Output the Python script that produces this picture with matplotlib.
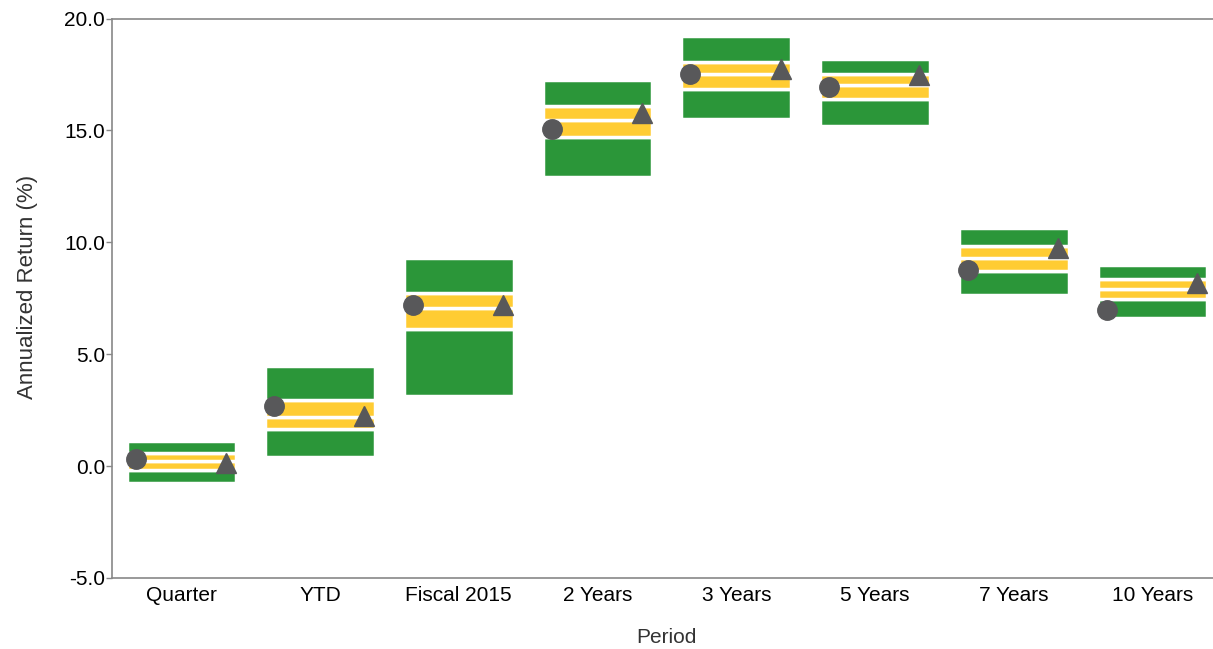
import numpy as np
import matplotlib
matplotlib.use('Agg')
import matplotlib.pyplot as plt

plt.rcParams['font.family'] = ['Liberation Sans', 'DejaVu Sans']

periods = ['Quarter', 'YTD', 'Fiscal 2015', '2 Years', '3 Years', '5 Years', '7 Years', '10 Years']

# percentile bands
p05 = [-0.77, 0.39, 3.13, 12.92, 15.52, 15.18, 7.63, 6.62]
p25 = [-0.18, 1.68, 6.13, 14.69, 16.83, 16.40, 8.74, 7.46]
p50 = [0.25, 2.20, 7.08, 15.45, 17.51, 17.04, 9.32, 7.93]
p75 = [0.57, 2.95, 7.72, 16.08, 18.04, 17.51, 9.85, 8.35]
p95 = [1.14, 4.46, 9.32, 17.26, 19.24, 18.20, 10.66, 8.97]

fund = [0.34, 2.68, 7.22, 15.08, 17.51, 16.92, 8.75, 6.96]
bench = [0.14, 2.25, 7.22, 15.76, 17.75, 17.47, 9.74, 8.18]

green = '#2b9639'
yellow = '#ffcc33'
grey = '#58585a'

fig = plt.figure(figsize=(12.13, 6.49), dpi=100)
ax = fig.add_axes([0.0923, 0.1094, 0.915, 0.862])

x = np.arange(len(periods))
lo = np.array(p05)
q1 = np.array(p25)
md = np.array(p50)
q3 = np.array(p75)
hi = np.array(p95)
w = 0.79
kw = dict(width=w, edgecolor='white', linewidth=2.5, zorder=2)
ax.bar(x, q1 - lo, bottom=lo, color=green, **kw)
ax.bar(x, md - q1, bottom=q1, color=yellow, **kw)
ax.bar(x, q3 - md, bottom=md, color=yellow, **kw)
ax.bar(x, hi - q3, bottom=q3, color=green, **kw)

ax.plot(x - 0.33, fund, 'o', color=grey, markersize=14, zorder=3, linestyle='none')
ax.plot(x + 0.32, bench, '^', color=grey, markersize=14, zorder=3, linestyle='none')

ax.set_xlim(-0.5, len(periods) - 0.5)
ax.set_ylim(-5, 20)
ax.set_yticks(np.arange(-5, 20.1, 5))
ax.set_yticklabels(['%.1f' % v for v in np.arange(-5, 20.1, 5)])
ax.set_xticks(x)
ax.set_xticklabels(periods)

ax.tick_params(axis='y', length=4, width=1, color='#888888', labelsize=15, pad=1)
ax.tick_params(axis='x', length=0, labelsize=15, pad=6)
for s in ['left', 'top', 'bottom']:
    ax.spines[s].set_color('#888888')
    ax.spines[s].set_linewidth(1.2)
ax.spines['right'].set_visible(False)

ax.set_xlabel('Period', fontsize=15, color='#333333', labelpad=16)
ax.set_ylabel('Annualized Return (%)', fontsize=16, color='#333333')
ax.yaxis.set_label_coords(-0.067, 0.52)

fig.savefig('out.png', dpi=100)
